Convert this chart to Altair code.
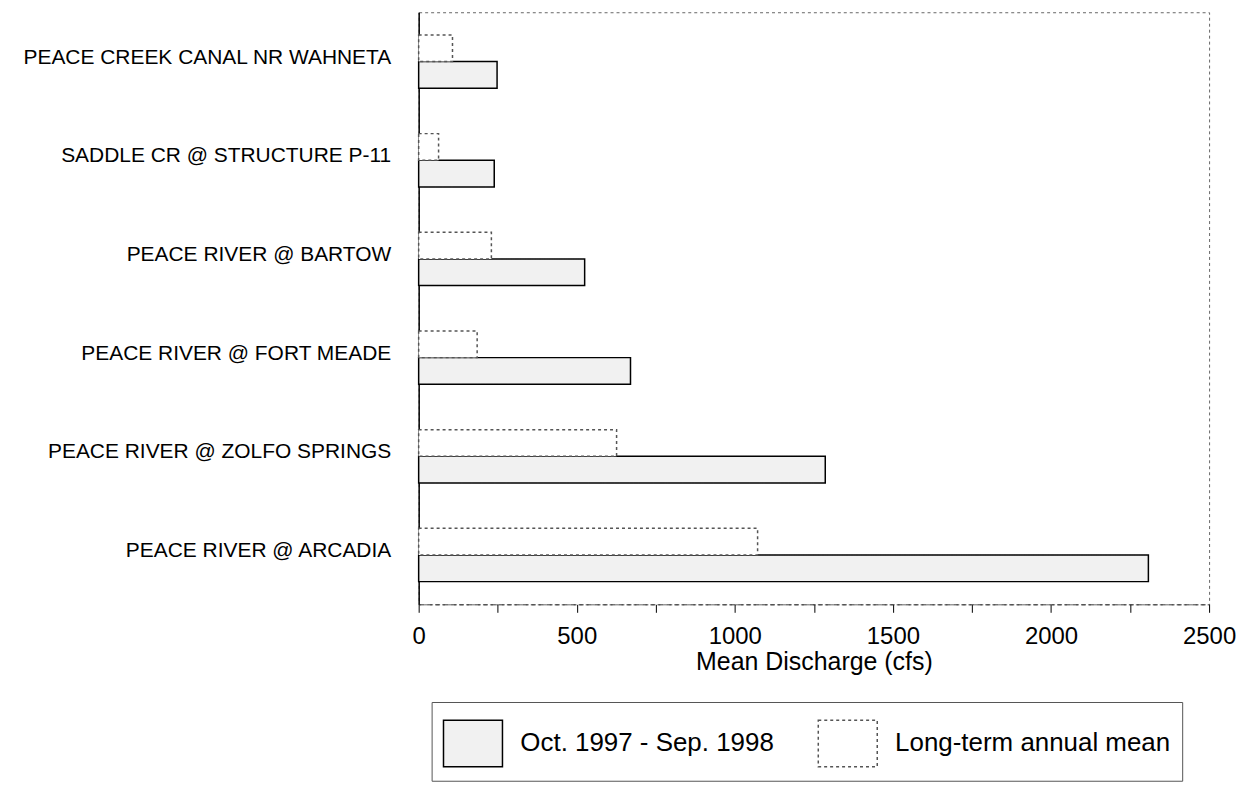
import altair as alt
import pandas as pd

stations = [
    "PEACE CREEK CANAL NR WAHNETA",
    "SADDLE CR @ STRUCTURE P-11",
    "PEACE RIVER @ BARTOW",
    "PEACE RIVER @ FORT MEADE",
    "PEACE RIVER @ ZOLFO SPRINGS",
    "PEACE RIVER @ ARCADIA",
]
wy1998 = [248, 239, 525, 670, 1286, 2308]
longterm = [107, 63, 230, 185, 626, 1072]

S_OCT = "Oct. 1997 - Sep. 1998"
S_LT = "Long-term annual mean"
legend_order = [S_OCT, S_LT]
offset_order = [S_LT, S_OCT]

rows = []
for st, a, b in zip(stations, wy1998, longterm):
    rows.append({"station": st, "series": S_OCT, "value": a})
    rows.append({"station": st, "series": S_LT, "value": b})
df = pd.DataFrame(rows)

FONT = "Liberation Sans"

leg = alt.Legend(
    title=None,
    orient="none",
    legendX=13,
    legendY=692,
    direction="horizontal",
    columns=2,
    columnPadding=40,
    padding=11,
    strokeColor="#555",
    fillColor="white",
    symbolType="M-1,-0.787L1,-0.787L1,0.787L-1,0.787Z",
    symbolSize=3500,
    symbolStrokeWidth=1.5,
    labelFont=FONT,
    labelFontSize=26,
    labelColor="black",
    labelOffset=17,
    labelLimit=400,
)

chart = (
    alt.Chart(df)
    .mark_bar()
    .encode(
        y=alt.Y(
            "station:N",
            sort=stations,
            scale=alt.Scale(paddingInner=0.46, paddingOuter=0.23),
            axis=alt.Axis(
                title=None,
                ticks=False,
                domainColor="black",
                domainWidth=1.5,
                labelFont=FONT,
                labelFontSize=21,
                labelColor="black",
                labelPadding=28,
                labelOffset=-4,
                labelLimit=600,
                minExtent=407,
                maxExtent=407,
            ),
        ),
        yOffset=alt.YOffset(
            "series:N",
            scale=alt.Scale(domain=offset_order, paddingInner=0, paddingOuter=0),
        ),
        x=alt.X(
            "value:Q",
            scale=alt.Scale(domain=[0, 2500], nice=False),
            axis=alt.Axis(
                title="Mean Discharge (cfs)",
                values=list(range(0, 2501, 250)),
                labelExpr="datum.value % 500 === 0 ? datum.label : ''",
                format="d",
                grid=False,
                labelFlush=False,
                labelOverlap=False,
                domainColor="#333",
                domainDash=[5, 3],
                tickColor="black",
                tickSize=8,
                labelFont=FONT,
                labelFontSize=24,
                labelColor="black",
                labelPadding=12,
                titleFont=FONT,
                titleFontSize=25,
                titleFontWeight="normal",
                titleColor="black",
                titlePadding=1,
            ),
        ),
        fill=alt.Fill(
            "series:N",
            scale=alt.Scale(domain=legend_order, range=["#f1f1f1", "white"]),
            legend=leg,
        ),
        stroke=alt.Stroke(
            "series:N",
            scale=alt.Scale(domain=legend_order, range=["black", "#555"]),
            legend=leg,
        ),
        strokeDash=alt.StrokeDash(
            "series:N",
            scale=alt.Scale(domain=legend_order, range=[[1, 0], [3, 3]]),
            legend=leg,
        ),
        strokeWidth=alt.value(1.5),
    )
    .properties(
        width=793,
        height=594,
        padding={"left": 5, "top": 3, "right": 0, "bottom": 0},
    )
    .configure_view(stroke="#666", strokeDash=[3, 3], strokeWidth=1)
)

chart.save("out.html", embed_options={"renderer": "svg", "actions": False})
